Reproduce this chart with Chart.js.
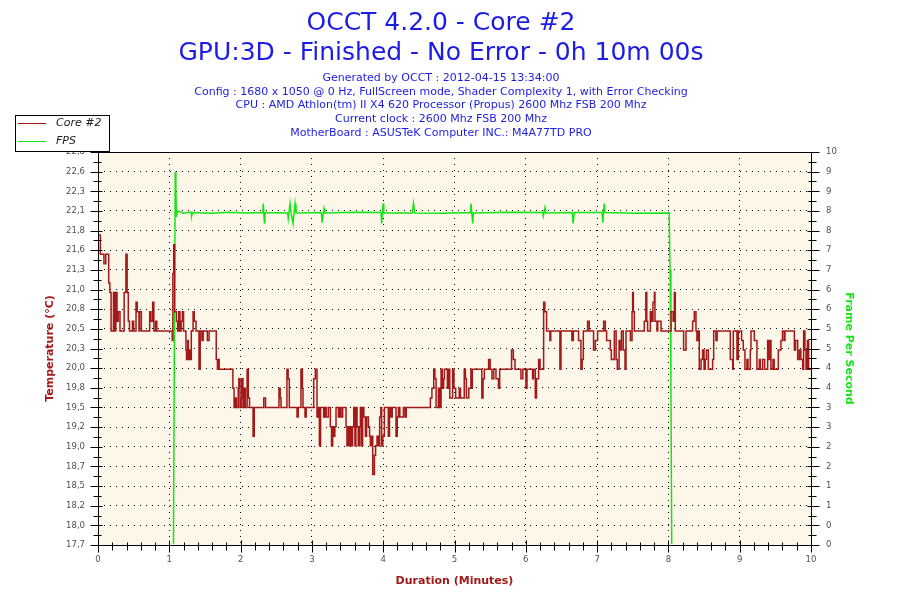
<!DOCTYPE html>
<html>
<head>
<meta charset="utf-8">
<title>OCCT 4.2.0 - Core #2</title>
<script src="https://cdn.jsdelivr.net/npm/chart.js@4.4.0/dist/chart.umd.min.js"></script>
<style>
  html, body { margin: 0; padding: 0; background: #ffffff; }
</style>
</head>
<body>
<canvas id="myChart" width="900" height="600"></canvas>
<script>
const titleLines = ["OCCT 4.2.0 - Core #2", "GPU:3D - Finished - No Error - 0h 10m 00s"];
const infoLines = [
  "Generated by OCCT : 2012-04-15 13:34:00",
  "Config : 1680 x 1050 @ 0 Hz, FullScreen mode, Shader Complexity 1, with Error Checking",
  "CPU : AMD Athlon(tm) II X4 620 Processor (Propus) 2600 Mhz FSB 200 Mhz",
  "Current clock : 2600 Mhz FSB 200 Mhz",
  "MotherBoard : ASUSTeK Computer INC.: M4A77TD PRO",
];

// axis labels (bottom to top for the y axes)
const xTickLabels = ["0", "1", "2", "3", "4", "5", "6", "7", "8", "9", "10"];
const tempTickLabels = ["17,7", "18,0", "18,2", "18,5", "18,7", "19,0", "19,2", "19,5", "19,8", "20,0", "20,3",
  "20,5", "20,8", "21,0", "21,3", "21,6", "21,8", "22,1", "22,3", "22,6", "22,8"];
const fpsTickLabels = ["0", "0", "1", "1", "2", "2", "3", "3", "4", "4", "5", "5", "6", "6", "7", "7", "8", "8", "9", "9", "10"];
const tempRange = [17.705, 22.835];
const fpsRange = [0, 10];

// Core #2 temperature, each value starts at the given second
const tempSeconds = [0, 2, 5, 6.5, 9, 10, 11, 13, 14, 15, 16, 17, 18.5, 22, 23.5, 24.5, 25.5, 26.5, 29, 30,
  32, 33, 34.5, 35, 36.5, 43.5, 44.5, 46, 47, 48.5, 49.5, 62.5, 63, 63.7, 64.5, 66, 67, 68, 69, 70,
  71, 72, 74, 74.5, 75.5, 76, 77, 77.5, 78.5, 80, 81, 82.5, 85, 86, 87.5, 88.5, 92, 93.5, 99.5, 100.5,
  101, 102, 113.5, 114.5, 115.5, 116.5, 118, 118.5, 119.5, 120.5, 121, 122, 123, 124, 125.5, 126.5, 127.5, 130.5, 131.5, 139.5,
  141, 152.3, 153.3, 154, 159, 160, 161, 167.5, 168.5, 170.8, 172, 172.5, 174.2, 175.2, 181.5, 182.9, 184.3, 185.3, 186.3, 187.3,
  189.9, 191, 192, 193.8, 195.5, 196.5, 197.5, 198.3, 199.3, 200.3, 202.3, 203.5, 204.5, 205.9, 208.7, 209.5, 210.5, 211.5, 212.5, 213.5,
  214.2, 215.2, 216.2, 217, 218, 219, 220, 220.8, 221.5, 222.7, 223.7, 225, 226, 227.5, 228.5, 229.2, 230, 231.2, 232.6, 233.6,
  234.8, 236, 237, 238, 238.7, 239.7, 241, 244.3, 245.3, 246.6, 247.6, 250.8, 251.8, 252.8, 254, 257, 258.4, 259.4, 279.7, 281,
  282.5, 283.5, 284.5, 286.4, 287.5, 288.7, 289.7, 290.9, 291.5, 294, 295, 296, 298.4, 299.5, 301, 304, 305, 308.2, 309.2, 310,
  312, 313.8, 314.5, 315, 323, 324, 325.1, 328.7, 330, 331.5, 333, 334.9, 337, 338, 348, 349.5, 350.9, 355.9, 357.5, 360.1,
  361, 365.7, 366.5, 368, 369, 370.8, 372, 375, 376, 377.5, 380.3, 381, 388.7, 389.6, 398.8, 400, 404.4, 406.4, 407.4, 408.4,
  412, 413.4, 417, 418.5, 420.4, 425.5, 426.9, 428, 431.1, 432, 434.5, 436, 437, 438.5, 439.2, 440.5, 442, 443.5, 444.3, 448,
  449.4, 449.9, 450.5, 451.3, 459.7, 461, 461.8, 462.5, 464.8, 466, 467, 468.2, 468.7, 470.4, 471, 473.8, 482.2, 484, 485, 485.8,
  492.8, 494.8, 500.4, 501.8, 503.2, 504, 505.2, 506, 507.5, 508.8, 510, 511, 512, 513.6, 517.2, 518.1, 520, 521, 532.1, 534.1,
  534.6, 537.7, 538.8, 541.6, 543, 544.4, 546.1, 547, 548.9, 549.5, 552.3, 554.5, 556.5, 557.3, 559.3, 561, 563.5, 564.5, 565.8, 566.3,
  568, 569, 572.5, 574.7, 576, 577.5, 578.1, 586, 587, 588.8, 590.2, 591.5, 593, 593.8, 594.9, 595.8, 597, 598, 600];
const tempValues = [21.75, 21.5, 21.375, 21.5, 21.125, 21.0, 20.5, 21.0, 20.5, 21.0, 20.625, 20.75, 20.5, 21.0, 21.5, 21.0, 20.625, 20.5, 20.625, 20.5,
  20.875, 20.75, 20.5, 20.75, 20.5, 20.75, 20.625, 20.875, 20.5, 20.625, 20.5, 20.375, 21.25, 21.625, 20.75, 20.625, 20.5, 20.75, 20.5, 20.625,
  20.75, 20.5, 20.25, 20.125, 20.375, 20.125, 20.25, 20.125, 20.5, 20.75, 20.625, 20.5, 20.0, 20.5, 20.375, 20.5, 20.375, 20.5, 20.125, 20.0,
  20.125, 20.0, 19.75, 19.5, 19.625, 19.5, 19.75, 19.875, 19.5, 19.625, 19.875, 19.5, 19.75, 19.5, 20.0, 19.625, 19.5, 19.125, 19.5, 19.625,
  19.5, 19.75, 19.625, 19.5, 20.0, 19.875, 19.5, 19.375, 19.5, 20.0, 19.75, 19.5, 19.375, 19.5, 19.875, 20.0, 19.375, 19.5, 19.0, 19.5,
  19.375, 19.5, 19.375, 19.5, 19.25, 19.0, 19.25, 19.125, 19.25, 19.5, 19.375, 19.5, 19.375, 19.5, 19.25, 19.0, 19.25, 19.0, 19.25, 19.0,
  19.25, 19.5, 19.0, 19.5, 19.25, 19.0, 19.25, 19.5, 19.0, 19.5, 19.375, 19.125, 19.375, 19.25, 19.125, 19.0, 19.125, 18.625, 18.875, 19.0,
  19.125, 19.0, 19.375, 19.5, 19.0, 19.125, 19.5, 19.125, 19.5, 19.375, 19.5, 19.125, 19.375, 19.5, 19.375, 19.5, 19.375, 19.5, 19.625, 19.75,
  20.0, 19.875, 19.5, 19.75, 19.5, 20.0, 19.75, 19.875, 20.0, 19.75, 20.0, 19.625, 20.0, 19.75, 19.625, 19.75, 19.625, 20.0, 19.875, 19.625,
  19.75, 20.0, 19.75, 20.0, 19.625, 19.875, 20.0, 20.125, 20.0, 19.875, 20.0, 19.875, 19.75, 20.0, 20.25, 20.125, 20.0, 19.875, 20.0, 19.75,
  20.0, 19.875, 20.0, 19.625, 19.875, 20.125, 20.0, 20.875, 20.75, 20.5, 20.375, 20.5, 20.0, 20.5, 20.375, 20.5, 20.375, 20.0, 20.125, 20.5,
  20.625, 20.5, 20.25, 20.375, 20.5, 20.625, 20.5, 20.375, 20.25, 20.125, 20.5, 20.125, 20.0, 20.375, 20.25, 20.5, 20.25, 20.0, 20.5, 20.375,
  20.75, 21.0, 20.75, 20.5, 20.625, 21.0, 20.625, 20.5, 20.75, 20.625, 20.875, 21.0, 20.625, 20.5, 20.625, 20.5, 20.75, 20.625, 21.0, 20.5,
  20.25, 20.5, 20.625, 20.75, 20.5, 20.375, 20.5, 20.0, 20.125, 20.25, 20.0, 20.125, 20.25, 20.0, 20.125, 20.5, 20.375, 20.5, 20.125, 20.0,
  20.5, 20.125, 20.5, 20.375, 20.25, 20.0, 20.125, 20.0, 20.25, 20.5, 20.375, 20.0, 20.125, 20.0, 20.125, 20.0, 20.375, 20.125, 20.375, 20.0,
  20.125, 20.0, 20.25, 20.375, 20.5, 20.375, 20.5, 20.25, 20.375, 20.125, 20.25, 20.125, 20.0, 20.5, 20.25, 20.0, 20.375, 20.0, 20.0];

// frames per second, on the right axis scale
const fpsSeconds = [0, 63.5, 64.2, 65, 65.5, 66, 66.8, 72, 78.3, 78.8, 79.5, 95, 110, 125, 138.6, 139.1, 140, 140.5, 159.6, 160.1,
  161.6, 162.5, 164.1, 165.8, 166.6, 188, 188.5, 190.2, 190.9, 215, 238.2, 238.7, 239.9, 240.5, 264.3, 265.5, 266.4, 290, 313.4, 313.9,
  315.3, 316, 345, 374.2, 374.7, 376.1, 376.8, 399, 399.8, 400.8, 424.2, 424.7, 426, 426.7, 455, 480.6, 481.4, 482.1, 482.8, 600];
const fpsValues = [0, 0, 4.7, 9.5, 9.1, 8.35, 8.5, 8.44, 8.47, 8.37, 8.46, 8.44, 8.47, 8.45, 8.46, 8.69, 8.2, 8.46, 8.45, 8.31,
  8.69, 8.45, 8.18, 8.69, 8.45, 8.46, 8.2, 8.56, 8.45, 8.47, 8.46, 8.18, 8.69, 8.45, 8.45, 8.7, 8.45, 8.44, 8.46, 8.69,
  8.18, 8.45, 8.47, 8.46, 8.37, 8.58, 8.45, 8.46, 8.18, 8.46, 8.46, 8.2, 8.69, 8.46, 8.44, 8.45, 7.0, 4.2, 0, 0];

const fontFamily = "'DejaVu Sans', Verdana, sans-serif";
const blue = "#1c1ce6";
const darkRed = "#a31818";
const green = "#14e614";

function spreadTicks(scale, labels, range) {
  const step = (range[1] - range[0]) / (labels.length - 1);
  scale.ticks = labels.map((l, i) => ({ value: range[0] + i * step }));
}

// frame, crossing tick marks, background and the little legend box
const occtFrame = {
  id: "occtFrame",
  beforeDraw(chart) {
    const { ctx, chartArea: a } = chart;
    ctx.save();
    ctx.fillStyle = "#fdf7e9";
    ctx.fillRect(a.left, a.top, a.right - a.left, a.bottom - a.top);
    ctx.restore();
  },
  afterDatasetsDraw(chart) {
    const { ctx, chartArea: a, scales } = chart;
    const L = a.left + 0.5, R = a.right + 0.5, B = a.bottom + 0.5;
    ctx.save();
    ctx.strokeStyle = "#000";
    ctx.lineWidth = 1;
    ctx.beginPath();
    ctx.rect(L, a.top + 0.5, a.right - a.left, a.bottom - a.top);

    const tempStep = (tempRange[1] - tempRange[0]) / (tempTickLabels.length - 1);
    for (let i = 0; i < tempTickLabels.length; i++) {
      const y = Math.round(scales.y.getPixelForValue(tempRange[0] + i * tempStep)) + 0.5;
      ctx.moveTo(L - 8, y); ctx.lineTo(L + 4, y);
      if (i > 0) {
        const ym = Math.round(scales.y.getPixelForValue(tempRange[0] + (i - 0.5) * tempStep)) + 0.5;
        ctx.moveTo(L - 5, ym); ctx.lineTo(L + 3, ym);
      }
    }
    const fpsStep = (fpsRange[1] - fpsRange[0]) / (fpsTickLabels.length - 1);
    for (let i = 0; i < fpsTickLabels.length; i++) {
      const y = Math.round(scales.y1.getPixelForValue(fpsRange[0] + i * fpsStep)) + 0.5;
      ctx.moveTo(R - 4, y); ctx.lineTo(R + 8, y);
      if (i > 0) {
        const ym = Math.round(scales.y1.getPixelForValue(fpsRange[0] + (i - 0.5) * fpsStep)) + 0.5;
        ctx.moveTo(R - 3, ym); ctx.lineTo(R + 5, ym);
      }
    }
    for (let s = 0; s <= 600; s += 12) {
      const x = Math.round(scales.x.getPixelForValue(s)) + 0.5;
      if (s % 60 === 0) {
        ctx.moveTo(x, B - 5); ctx.lineTo(x, B + 7);
      } else {
        ctx.moveTo(x, B - 3); ctx.lineTo(x, B + 5);
      }
    }
    ctx.stroke();
    ctx.restore();
  },
  afterDraw(chart) {
    const { ctx } = chart;
    const names = [chart.data.datasets[0].label, chart.data.datasets[1].label];
    const colors = [chart.data.datasets[0].borderColor, chart.data.datasets[1].borderColor];
    ctx.save();
    ctx.fillStyle = "#fff";
    ctx.fillRect(15, 115, 94, 37);
    ctx.strokeStyle = "#000";
    ctx.lineWidth = 1;
    ctx.strokeRect(15.5, 115.5, 94, 36);
    ctx.font = "italic 11px " + fontFamily;
    ctx.textBaseline = "middle";
    names.forEach((n, i) => {
      const y = 123.5 + i * 18;
      ctx.strokeStyle = colors[i];
      ctx.beginPath();
      ctx.moveTo(18, y); ctx.lineTo(46, y);
      ctx.stroke();
      ctx.fillStyle = "#202020";
      ctx.fillText(n, 56, y);
    });
    ctx.restore();
  },
};

const tickFont = { family: fontFamily, size: 8.5 };
const axisTitleFont = { family: fontFamily, size: 11, weight: "bold" };

const config = {
  type: "line",
  data: {
    datasets: [
      {
        label: "Core #2",
        data: tempSeconds.map((t, i) => ({ x: t, y: tempValues[i] })),
        yAxisID: "y",
        borderColor: darkRed,
        borderWidth: 1.5,
        stepped: true,
        pointRadius: 0,
      },
      {
        label: "FPS",
        data: fpsSeconds.map((t, i) => ({ x: t, y: fpsValues[i] })),
        yAxisID: "y1",
        borderColor: green,
        borderWidth: 1.5,
        tension: 0,
        pointRadius: 0,
        clip: { left: 1, right: 1, top: 1, bottom: -1 },
      },
    ],
  },
  options: {
    responsive: false,
    animation: false,
    events: [],
    layout: { padding: { left: 0, right: 18, top: 0, bottom: 0 } },
    plugins: {
      legend: { display: false },
      tooltip: { enabled: false },
      title: {
        display: true,
        text: titleLines,
        color: blue,
        font: { family: fontFamily, size: 25, weight: "normal", lineHeight: "30px" },
        padding: { top: 8.4, bottom: 2.7 },
      },
      subtitle: {
        display: true,
        text: infoLines,
        color: blue,
        font: { family: fontFamily, size: 11, lineHeight: "13.75px" },
        padding: { top: 0, bottom: 12.15 },
      },
    },
    scales: {
      x: {
        type: "linear",
        position: "bottom",
        min: 0,
        max: 600,
        bounds: "data",
        afterBuildTicks: (s) => { s.ticks = xTickLabels.map((l, i) => ({ value: i * 60 })); },
        afterFit: (s) => { s.height = 55; },
        ticks: {
          autoSkip: false,
          maxRotation: 0,
          padding: 10,
          color: "#505050",
          font: tickFont,
          callback: (v, i) => xTickLabels[i],
        },
        grid: { color: "#000", lineWidth: 1, drawTicks: false },
        border: { display: false, dash: [1, 5] },
        title: {
          display: true,
          text: "Duration (Minutes)",
          color: darkRed,
          font: axisTitleFont,
          padding: { top: 0, bottom: 12.3 },
        },
      },
      y: {
        type: "linear",
        position: "left",
        min: tempRange[0],
        max: tempRange[1],
        bounds: "data",
        afterBuildTicks: (s) => spreadTicks(s, tempTickLabels, tempRange),
        afterFit: (s) => { s.width = 98; },
        ticks: {
          autoSkip: false,
          padding: 13,
          color: "#505050",
          font: tickFont,
          callback: (v, i) => tempTickLabels[i],
        },
        grid: { color: "#000", lineWidth: 1, drawTicks: false },
        border: { display: false, dash: [1, 5] },
        title: {
          display: true,
          text: "Temperature (°C)",
          color: darkRed,
          font: axisTitleFont,
          padding: { top: 43.3, bottom: 0 },
        },
      },
      y1: {
        type: "linear",
        position: "right",
        min: fpsRange[0],
        max: fpsRange[1],
        bounds: "data",
        afterBuildTicks: (s) => spreadTicks(s, fpsTickLabels, fpsRange),
        afterFit: (s) => { s.width = 71; },
        ticks: {
          autoSkip: false,
          padding: 15,
          color: "#505050",
          font: tickFont,
          callback: (v, i) => fpsTickLabels[i],
        },
        grid: { display: false, drawTicks: false },
        border: { display: false },
        title: {
          display: true,
          text: "Frame Per Second",
          color: green,
          font: axisTitleFont,
          padding: { top: 26.3, bottom: 0 },
        },
      },
    },
  },
  plugins: [occtFrame],
};

const myChart = new Chart(document.getElementById("myChart"), config);
</script>
</body>
</html>
